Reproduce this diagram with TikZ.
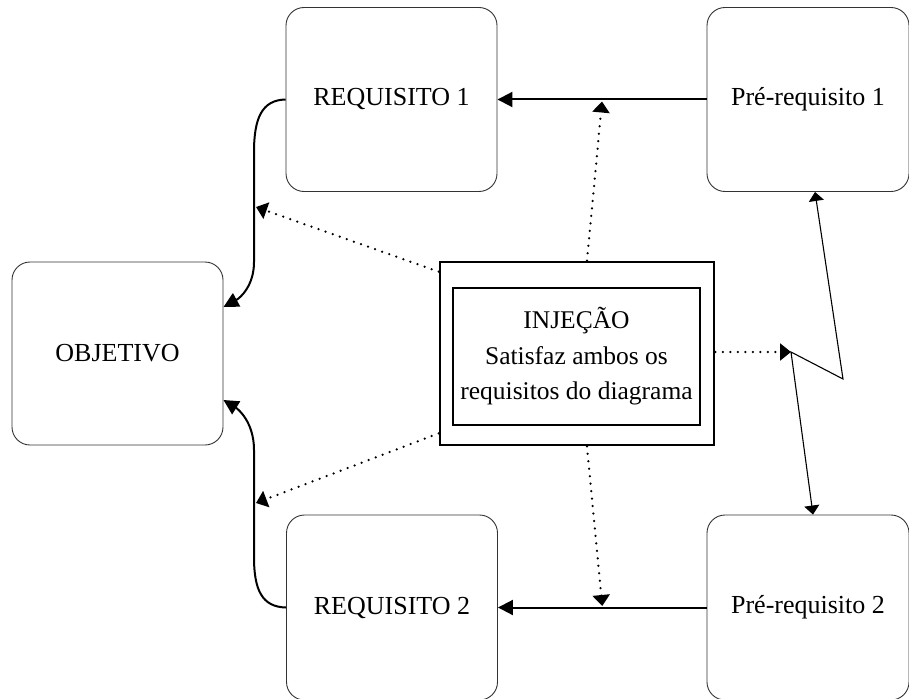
\documentclass[tikz,border=0pt]{standalone}
\usepackage{fontspec}
\setmainfont{Liberation Serif}
\usetikzlibrary{arrows.meta,calc}

\begin{document}
\begin{tikzpicture}[x=1pt,y=-1pt,
  box/.style={draw=black!80, line width=0.9pt, rounded corners=18pt,
    minimum width=211pt, minimum height=184pt, inner sep=0pt,
    font=\fontsize{26}{35}\selectfont, align=center},
  frame/.style={draw=black, line width=2.6pt, inner sep=0pt},
  flow/.style={draw=black, line width=2pt, -{Triangle[length=15pt,width=15pt]}},
  hint/.style={draw=black, line width=2.5pt, line cap=round,
    dash pattern=on 0pt off 7.5pt, -{Triangle[length=11pt,width=17pt]}},
  clash/.style={draw=black, line width=1.1pt,
    {Triangle[length=9pt,width=15pt]}-{Triangle[length=9pt,width=15pt]}}
]
\clip (0,0) rectangle (909,698);
\fill[white] (0,0) rectangle (909,698);

% boxes
\node[box] (req1) at (391.5,99.5) {REQUISITO 1};
\node[box, minimum width=202pt] (pre1) at (808,99.5) {Pré-requisito 1};
\node[box, minimum height=183pt] (obj) at (117.5,353.5) {OBJETIVO};
\node[box, minimum height=185pt] (req2) at (392,607.5) {REQUISITO 2};
\node[box, minimum width=202pt, minimum height=185pt] (pre2) at (808,607.5) {Pré-requisito 2};

% injection: double frame
\node[frame, minimum width=274pt, minimum height=183pt] (injout) at (577,353.5) {};
\node[frame, minimum width=247pt, minimum height=137pt,
  font=\fontsize{25.5}{35.5}\selectfont, align=center] (inj) at (576.5,356.5)
  {INJEÇÃO\\Satisfaz ambos os\\requisitos do diagrama};

% points on the curved connectors and the zigzag
\coordinate (c1) at (254,207);
\coordinate (c2) at (254,503);
\coordinate (z1) at (843,379);
\coordinate (z2) at (791,352);

% prerequisites feed requirements
\draw[flow] (pre1.west) -- (req1.east);
\draw[flow] (pre2.west) -- (req2.east);

% requirements feed the objective
\draw[flow] (req1.west) .. controls (262,100) and (254,118) .. (254,152)
  -- (c1) -- (254,262) .. controls (254,286) and (240,298) .. ($(obj.east)+(0,-46.5)$);
\draw[flow] (req2.west) .. controls (262,607) and (254,590) .. (254,557)
  -- (c2) -- (254,450) .. controls (254,422) and (238,409) .. ($(obj.east)+(0,46.5)$);

% injection acts on every link
\draw[hint] ($(injout.north west)+(0,11)$) -- ($(c1)+(2,0)$);
\draw[hint] ($(injout.south west)+(0,-13)$) -- ($(c2)+(2,0)$);
\draw[hint] ($(injout.north)+(10,0)$) -- ($($(req1.east)!0.5!(pre1.west)$)+(0,2)$);
\draw[hint] ($(injout.south)+(10,0)$) -- ($($(req2.east)!0.5!(pre2.west)$)+(0,-1.5)$);
\draw[hint] (injout.east |- z2) -- (z2);

% conflict between the prerequisites
\draw[clash] ($(pre1.south)+(7,0)$) -- (z1) -- (z2) -- ($(pre2.north)+(5,0)$);
\end{tikzpicture}
\end{document}
